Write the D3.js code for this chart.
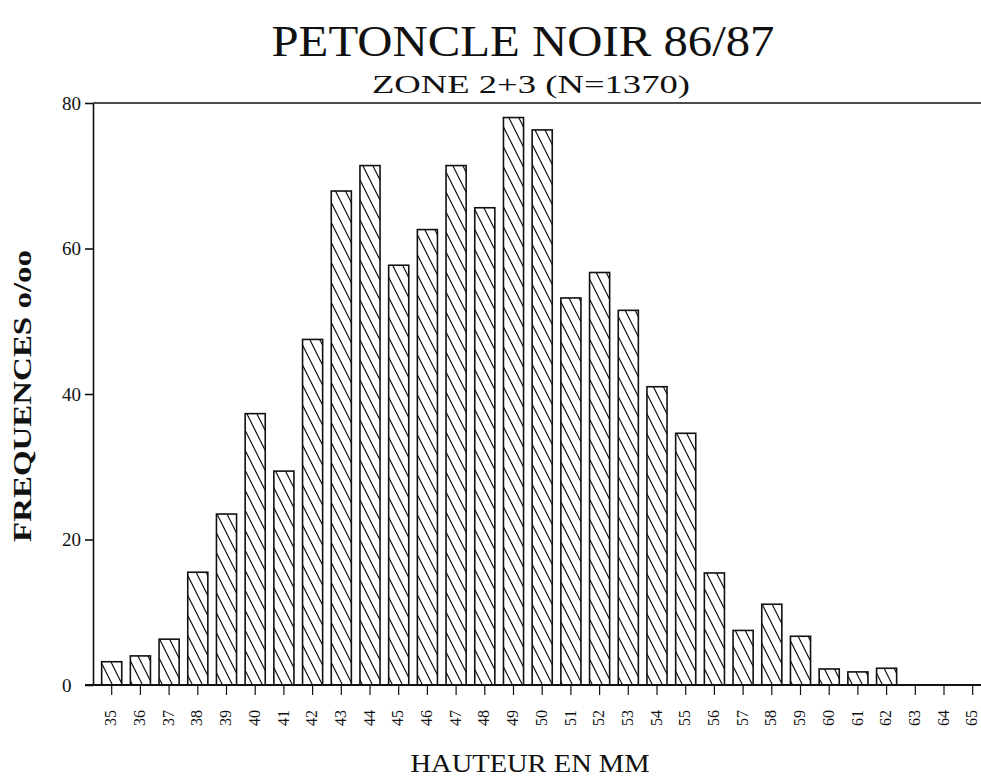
<!DOCTYPE html>
<html>
<head>
<meta charset="utf-8">
<script src="https://cdn.jsdelivr.net/npm/d3@7"></script>
<style>
  body { margin: 0; background: #fff; }
  text { font-family: "Liberation Serif", "DejaVu Serif", serif; fill: #111; }
</style>
</head>
<body>
<svg id="chart" width="981" height="783"></svg>
<script>
// data
var sizes = d3.range(35, 66).map(String); // 35 .. 65 mm
var freqs = [3.2, 4.0, 6.3, 15.5, 23.5, 37.3, 29.4, 47.5, 67.9, 71.4,
             57.7, 62.6, 71.4, 65.6, 78.0, 76.3, 53.2, 56.7, 51.5, 41.0,
             34.6, 15.4, 7.5, 11.1, 6.7, 2.2, 1.8, 2.3, 0, 0, 0];
var yTicks = [0, 20, 40, 60, 80];

var title = "PETONCLE NOIR 86/87";
var subtitle = "ZONE 2+3 (N=1370)";
var xTitle = "HAUTEUR EN MM";
var yTitle = "FREQUENCES o/oo";

// layout
var axisX = 93, zeroY = 685, topY = 103;
var step = 28.7;
var firstCenter = 111.7;

var svg = d3.select('#chart');

// hatch for the bars (\\\ lines)
var defs = svg.append('defs');
var pat = defs.append('pattern').attr('id', 'hatch')
  .attr('patternUnits', 'userSpaceOnUse')
  .attr('width', 10).attr('height', 20);
pat.append('path')
  .attr('d', 'M0,0 L10,20 M-5,-10 L5,10 M5,10 L15,30 M5,-10 L15,10 M-5,10 L5,30')
  .attr('stroke', '#111').attr('stroke-width', 1.2).attr('fill', 'none');

var x = d3.scaleBand()
  .domain(sizes)
  .range([firstCenter - step / 2, firstCenter - step / 2 + step * sizes.length])
  .paddingInner(0.3).paddingOuter(0.15);

var y = d3.scaleLinear().domain([0, 80]).range([zeroY, topY]);

// bars
svg.append('g').selectAll('rect')
  .data(sizes.map(function(s, i){ return {s: s, v: freqs[i]}; }).filter(function(d){ return d.v > 0; }))
  .enter().append('rect')
  .attr('x', function(d){ return x(d.s); })
  .attr('y', function(d){ return y(d.v); })
  .attr('width', x.bandwidth())
  .attr('height', function(d){ return zeroY - y(d.v); })
  .attr('fill', 'url(#hatch)')
  .attr('stroke', '#111').attr('stroke-width', 1.6);

// y axis
var yAxis = svg.append('g').attr('transform', 'translate(' + axisX + ',0)')
  .call(d3.axisLeft(y).tickValues(yTicks).tickSize(8).tickPadding(7).tickSizeOuter(0));
yAxis.select('.domain').attr('stroke', '#111').attr('stroke-width', 1.6);
yAxis.selectAll('.tick line').attr('stroke', '#111').attr('stroke-width', 1.6);
yAxis.selectAll('.tick text')
  .attr('text-anchor', 'start').attr('x', -31)
  .style('font-size', '19px').style('font-family', '"Liberation Serif", serif');

// top frame line
svg.append('line')
  .attr('x1', axisX).attr('x2', 981)
  .attr('y1', y(80)).attr('y2', y(80))
  .attr('stroke', '#111').attr('stroke-width', 1.6);

// x axis
var xAxis = svg.append('g').attr('transform', 'translate(0,' + zeroY + ')')
  .call(d3.axisBottom(x).tickSize(10).tickSizeOuter(0));
xAxis.select('.domain').remove();
xAxis.append('line').attr('x1', 85).attr('x2', 981).attr('y1', 0).attr('y2', 0)
  .attr('stroke', '#111').attr('stroke-width', 2);
xAxis.selectAll('.tick line').attr('stroke', '#111').attr('stroke-width', 1.2);
xAxis.selectAll('.tick text')
  .attr('transform', 'rotate(-90)')
  .attr('x', -33).attr('y', -1).attr('dy', '0.35em')
  .attr('text-anchor', 'middle')
  .style('font-size', '16px').style('font-family', '"Liberation Serif", serif');

// titles
svg.append('text').attr('x', 523).attr('y', 56)
  .attr('text-anchor', 'middle')
  .attr('textLength', 503).attr('lengthAdjust', 'spacingAndGlyphs')
  .style('font-size', '44px').text(title);

svg.append('text').attr('x', 531).attr('y', 93)
  .attr('text-anchor', 'middle')
  .attr('textLength', 318).attr('lengthAdjust', 'spacingAndGlyphs')
  .style('font-size', '25px').text(subtitle);

svg.append('text').attr('x', 530).attr('y', 772)
  .attr('text-anchor', 'middle')
  .attr('textLength', 239).attr('lengthAdjust', 'spacingAndGlyphs')
  .style('font-size', '25px').text(xTitle);

svg.append('text')
  .attr('transform', 'translate(31,396) rotate(-90)')
  .attr('text-anchor', 'middle')
  .attr('textLength', 292).attr('lengthAdjust', 'spacingAndGlyphs')
  .style('font-size', '25px').style('font-weight', 'bold').text(yTitle);
</script>
</body>
</html>
